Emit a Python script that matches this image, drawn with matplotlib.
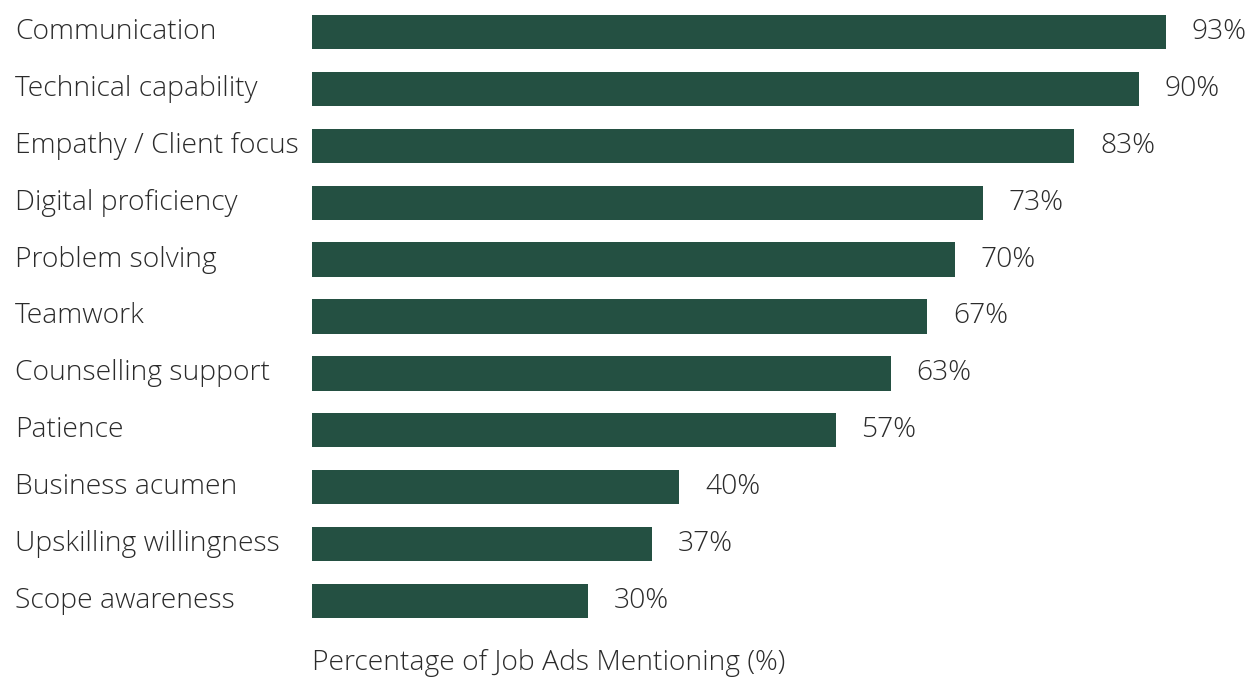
import matplotlib.pyplot as plt
import matplotlib.transforms as mtransforms

skills = ["Communication", "Technical capability", "Empathy / Client focus",
          "Digital proficiency", "Problem solving", "Teamwork",
          "Counselling support", "Patience", "Business acumen",
          "Upskilling willingness", "Scope awareness"]
pct = [93, 90, 83, 73, 70, 67, 63, 57, 40, 37, 30]

bar_color = "#245042"
text_color = "#2b2b2b"
fs = 20.3
plt.rcParams['font.family'] = ['Open Sans', 'DejaVu Sans']

fig = plt.figure(figsize=(12.48, 6.77), dpi=100)
ax = fig.add_axes([0.25, 0.070, 0.75, 0.925])

y = list(range(len(skills)))
ax.barh(y, pct, height=0.6, color=bar_color)
ax.set_xlim(0, 101.9)
ax.set_ylim(len(skills) - 0.5, -0.5)
ax.axis('off')

lab_tr = mtransforms.blended_transform_factory(fig.transFigure, ax.transData)
for yi, name, v in zip(y, skills, pct):
    ax.text(15 / 1248, yi, name, transform=lab_tr, ha='left', va='center',
            fontsize=fs, color=text_color, fontweight=300)
    ax.text(v + 2.8, yi, f"{v}%", ha='left', va='center',
            fontsize=fs, color=text_color, fontweight=300)

fig.text(0.25, 1 - 663 / 677, "Percentage of Job Ads Mentioning (%)",
         ha='left', va='center', fontsize=fs, color=text_color, fontweight=300)

fig.savefig("out.png", dpi=100)
